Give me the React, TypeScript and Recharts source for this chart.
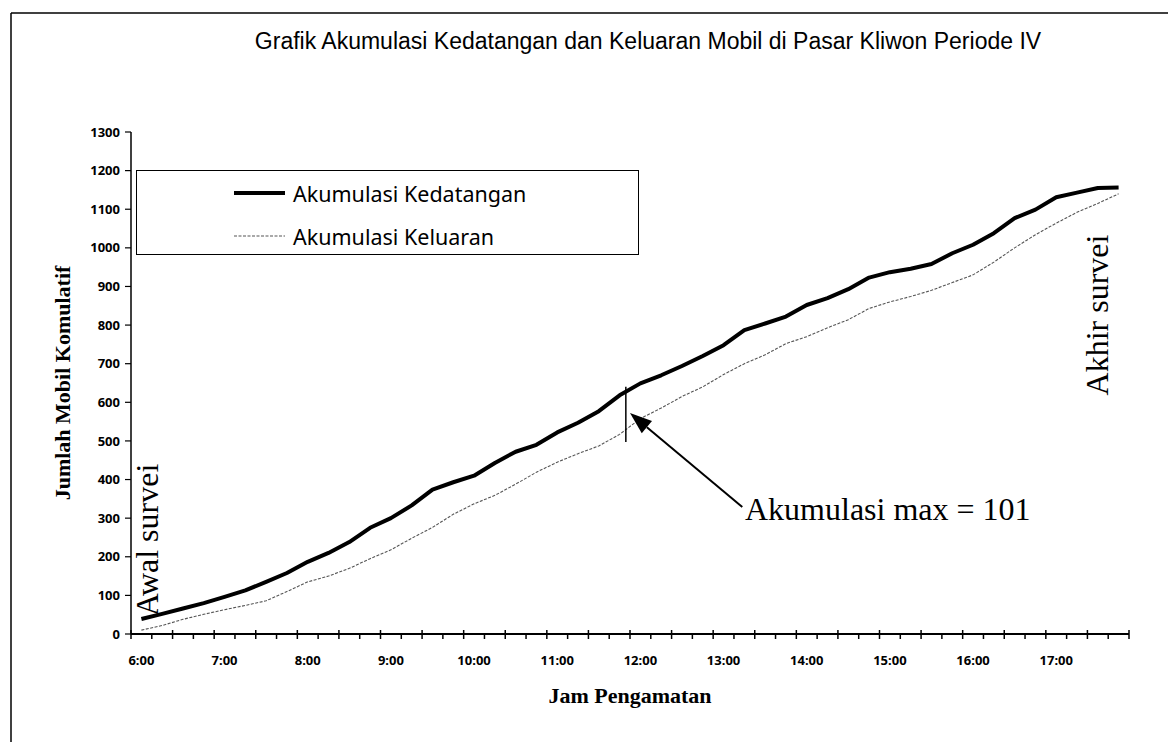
import React from "react";
import { LineChart, Line, XAxis, YAxis, Legend, ReferenceLine } from "recharts";

// 15-minute categories from 6:00 to 17:45
const categories = [
  "6:00", "6:15", "6:30", "6:45", "7:00", "7:15", "7:30", "7:45",
  "8:00", "8:15", "8:30", "8:45", "9:00", "9:15", "9:30", "9:45",
  "10:00", "10:15", "10:30", "10:45", "11:00", "11:15", "11:30", "11:45",
  "12:00", "12:15", "12:30", "12:45", "13:00", "13:15", "13:30", "13:45",
  "14:00", "14:15", "14:30", "14:45", "15:00", "15:15", "15:30", "15:45",
  "16:00", "16:15", "16:30", "16:45", "17:00", "17:15", "17:30", "17:45",
];

const kedatangan = [
  39, 52, 66, 80, 96, 113, 135, 158,
  187, 210, 238, 275, 300, 333, 374, 393,
  410, 443, 472, 490, 522, 547, 577, 618,
  649, 670, 694, 720, 748, 787, 804, 822,
  852, 870, 893, 923, 937, 946, 958, 986,
  1008, 1038, 1077, 1099, 1131, 1143, 1155, 1156,
];

const keluaran = [
  10, 22, 38, 51, 63, 74, 86, 110,
  135, 150, 170, 195, 218, 248, 276, 310,
  337, 359, 388, 419, 445, 467, 487, 517,
  558, 585, 615, 640, 672, 700, 723, 752,
  770, 793, 814, 843, 860, 874, 890, 910,
  930, 963, 1000, 1034, 1064, 1092, 1115, 1140,
];

const yTicks = [0, 100, 200, 300, 400, 500, 600, 700, 800, 900, 1000, 1100, 1200, 1300];
const hourLabels = ["6:00", "7:00", "8:00", "9:00", "10:00", "11:00", "12:00", "13:00", "14:00", "15:00", "16:00", "17:00"];

const seriesNames = { kedatangan: "Akumulasi Kedatangan", keluaran: "Akumulasi Keluaran" };
const seriesStyle: Record<string, { stroke: string; width: number; dash?: string }> = {
  kedatangan: { stroke: "#000000", width: 4 },
  keluaran: { stroke: "#555555", width: 1.1, dash: "3 1.5" },
};

const data = categories.map((t, i) => ({
  idx: i,
  time: t,
  kedatangan: kedatangan[i],
  keluaran: keluaran[i],
}));

// tick positions: category boundaries (for tick marks) + hour category centres (for labels)
const boundaryTicks = Array.from({ length: categories.length + 1 }, (_, k) => k - 0.5);
const labelTicks = hourLabels.map((h) => categories.indexOf(h));
const xTicks = [...boundaryTicks, ...labelTicks].sort((a, b) => a - b);

const TICK_FONT = '"Comic Sans MS", "Noto Sans", sans-serif';
const SERIF = '"Liberation Serif", "Times New Roman", serif';

const XTick = (props: any) => {
  const { x, y, payload } = props;
  const v = payload.value as number;
  if (Number.isInteger(v)) {
    return (
      <text x={x} y={y + 31} textAnchor="middle" fontFamily={TICK_FONT} fontSize={13} fontWeight={700} fill="#000">
        {categories[v]}
      </text>
    );
  }
  const k = Math.round(v + 0.5);
  const major = k % 2 === 0;
  return <line x1={x} x2={x} y1={major ? y - 4 : y} y2={y + 5} stroke="#000" strokeWidth={1.5} />;
};

const ArrowShape = (props: any) => {
  const { x1, y1, x2, y2 } = props;
  const ang = Math.atan2(y2 - y1, x2 - x1);
  const L = 22;
  const W = 8;
  const bx = x2 - L * Math.cos(ang);
  const by = y2 - L * Math.sin(ang);
  const p1 = `${bx + W * Math.sin(ang)},${by - W * Math.cos(ang)}`;
  const p2 = `${bx - W * Math.sin(ang)},${by + W * Math.cos(ang)}`;
  return (
    <g>
      <line x1={x1} y1={y1} x2={bx} y2={by} stroke="#000" strokeWidth={2} />
      <polygon points={`${x2},${y2} ${p1} ${p2}`} fill="#000" />
    </g>
  );
};

const LegendBox = (props: any) => {
  const payload = props.payload || [];
  return (
    <div
      style={{
        position: "relative",
        width: 503,
        height: 85,
        border: "1.5px solid #000",
        boxSizing: "border-box",
        background: "#fff",
      }}
    >
      {payload.map((entry: any, i: number) => {
        const st = seriesStyle[entry.dataKey] || { stroke: "#000", width: 1 };
        return (
          <div
            key={i}
            style={{
              position: "absolute",
              left: 97,
              top: (i === 0 ? 22 : 65) - 15,
              height: 30,
              display: "flex",
              alignItems: "center",
            }}
          >
            <svg width={51} height={6} style={{ display: "block" }}>
              <line
                x1={0}
                y1={3}
                x2={51}
                y2={3}
                stroke={st.stroke}
                strokeWidth={st.width}
                strokeDasharray={st.dash}
              />
            </svg>
            <span
              style={{
                marginLeft: 8,
                fontFamily: TICK_FONT,
                fontSize: 21.5,
                color: "#000",
                whiteSpace: "nowrap",
              }}
            >
              {entry.value}
            </span>
          </div>
        );
      })}
    </div>
  );
};

export default function App() {
  return (
    <div style={{ position: "relative", width: 1160, height: 734, background: "#fff" }}>
      <LineChart width={1160} height={734} data={data} margin={{ top: 124, right: 39, left: 63, bottom: 68 }}>
        <XAxis
          dataKey="idx"
          type="number"
          domain={[-0.5, categories.length - 0.5]}
          ticks={xTicks}
          interval={0}
          tick={<XTick />}
          tickLine={false}
          tickSize={0}
          tickMargin={0}
          height={40}
          axisLine={{ stroke: "#000", strokeWidth: 2 }}
          allowDataOverflow
        />
        <YAxis
          type="number"
          domain={[0, 1300]}
          ticks={yTicks}
          interval={0}
          width={60}
          tickSize={6}
          tickMargin={5}
          tick={{ fill: "#000", fontSize: 13, fontWeight: 700, fontFamily: TICK_FONT }}
          tickLine={{ stroke: "#000", strokeWidth: 1.2 }}
          axisLine={{ stroke: "#000", strokeWidth: 1.5 }}
        />
        <Legend
          layout="vertical"
          align="center"
          verticalAlign="middle"
          wrapperStyle={{ position: "absolute", left: 128, top: 162, width: 503, height: 85 }}
          content={(p: any) => <LegendBox payload={p.payload} />}
        />
        <Line
          type="linear"
          dataKey="kedatangan"
          name={seriesNames.kedatangan}
          stroke={seriesStyle.kedatangan.stroke}
          strokeWidth={seriesStyle.kedatangan.width}
          dot={false}
          strokeLinejoin="round"
          isAnimationActive={false}
        />
        <Line
          type="linear"
          dataKey="keluaran"
          name={seriesNames.keluaran}
          stroke={seriesStyle.keluaran.stroke}
          strokeWidth={seriesStyle.keluaran.width}
          strokeDasharray={seriesStyle.keluaran.dash}
          dot={false}
          isAnimationActive={false}
        />
        <ReferenceLine
          segment={[
            { x: 23.3, y: 497 },
            { x: 23.3, y: 640 },
          ]}
          stroke="#000"
          strokeWidth={1.5}
        />
        <ReferenceLine
          segment={[
            { x: 28.9, y: 329 },
            { x: 23.5, y: 572 },
          ]}
          shape={<ArrowShape />}
        />
      </LineChart>
      <svg
        width={1160}
        height={734}
        style={{ position: "absolute", left: 0, top: 0, pointerEvents: "none" }}
      >
        <line x1={3} y1={5} x2={1160} y2={5} stroke="#000" strokeWidth={1.5} />
        <line x1={3} y1={5} x2={3} y2={734} stroke="#000" strokeWidth={1.5} />
        <text x={640} y={41} textAnchor="middle" fontFamily='"Liberation Sans", Arial, sans-serif' fontSize={23} fill="#000">
          Grafik Akumulasi Kedatangan dan Keluaran Mobil di Pasar Kliwon Periode IV
        </text>
        <text
          transform="translate(62,375) rotate(-90)"
          textAnchor="middle"
          fontFamily={SERIF}
          fontWeight={700}
          fontSize={22}
          fill="#000"
        >
          Jumlah Mobil Komulatif
        </text>
        <text x={622} y={695} textAnchor="middle" fontFamily={SERIF} fontWeight={700} fontSize={22} fill="#000">
          Jam Pengamatan
        </text>
        <text transform="translate(150,532) rotate(-90)" textAnchor="middle" fontFamily={SERIF} fontSize={32} fill="#000">
          Awal survei
        </text>
        <text transform="translate(1100,307) rotate(-90)" textAnchor="middle" fontFamily={SERIF} fontSize={32} fill="#000">
          Akhir survei
        </text>
        <text x={737} y={512} fontFamily={SERIF} fontSize={32} fill="#000">
          Akumulasi max = 101
        </text>
      </svg>
    </div>
  );
}
